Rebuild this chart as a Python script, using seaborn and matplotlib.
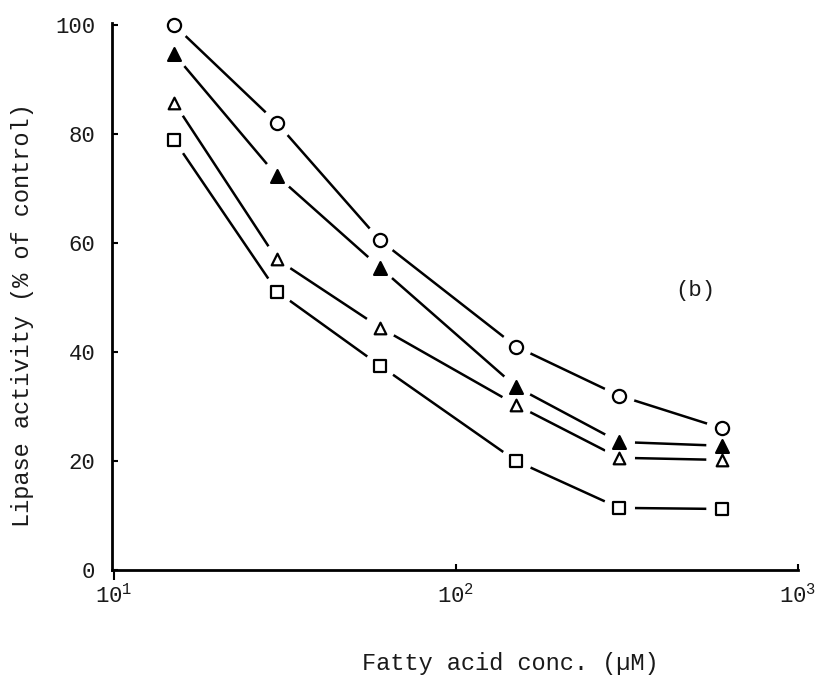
import matplotlib
matplotlib.use("Agg")
import matplotlib.pyplot as plt
import matplotlib.lines as mlines
from matplotlib.ticker import NullLocator, FixedLocator
import numpy as np
import pandas as pd
import seaborn as sns

# Fatty acid concentrations (µM) and lipase activity (% of control)
conc = [15, 30, 60, 150, 300, 600]
act_circle = [100.0, 82.0, 60.5, 41.0, 32.0, 26.0]
act_filled_tri = [94.7, 72.3, 55.5, 33.6, 23.5, 22.8]
act_open_tri = [85.8, 57.0, 44.5, 30.3, 20.6, 20.2]
act_square = [78.9, 51.1, 37.5, 20.0, 11.4, 11.2]

series_names = ["circle", "filled_tri", "open_tri", "square"]
series_vals = [act_circle, act_filled_tri, act_open_tri, act_square]

xtick_vals = [10, 100, 1000]
xtick_labels = [r"$\mathregular{10^{1}}$", r"$\mathregular{10^{2}}$", r"$\mathregular{10^{3}}$"]
ytick_vals = [0, 20, 40, 60, 80, 100]

df = pd.DataFrame({
    "conc": np.tile(conc, len(series_names)),
    "activity": np.concatenate(series_vals),
    "series": np.repeat(series_names, len(conc)),
})

sns.set_style("ticks")
plt.rcParams["font.family"] = ["Liberation Mono", "DejaVu Sans"]
plt.rcParams["mathtext.default"] = "regular"

fig = plt.figure(figsize=(8.15, 6.8), dpi=100)
ax = fig.add_axes([112 / 815, 1 - 570 / 680, 686 / 815, 547 / 680])

# connecting lines
sns.lineplot(data=df, x="conc", y="activity", units="series", estimator=None,
             color="black", linewidth=1.8, ax=ax, zorder=2, legend=False)

# white halo so the lines stop short of each marker
sns.scatterplot(data=df, x="conc", y="activity", marker="o", s=520,
                color="white", edgecolor="none", linewidth=0, ax=ax, zorder=3,
                legend=False, clip_on=False)

marker_styles = {
    "circle": dict(marker="o", s=90, facecolor="white"),
    "filled_tri": dict(marker="^", s=85, facecolor="black"),
    "open_tri": dict(marker="^", s=70, facecolor="white"),
    "square": dict(marker="s", s=80, facecolor="white"),
}
for name in series_names:
    st = marker_styles[name]
    sub = df[df["series"] == name]
    sns.scatterplot(data=sub, x="conc", y="activity", marker=st["marker"], s=st["s"],
                    facecolor=st["facecolor"], edgecolor="black", linewidth=1.6,
                    ax=ax, zorder=4, legend=False, clip_on=False)

ax.set_xscale("log")
ax.set_xlim(9.87, 1000)
ax.set_ylim(0, 100.4)

ax.xaxis.set_major_locator(FixedLocator(xtick_vals))
ax.xaxis.set_minor_locator(NullLocator())
ax.set_xticklabels(xtick_labels)
ax.set_yticks(ytick_vals)
ax.set_yticklabels([str(v) for v in ytick_vals])

ax.tick_params(axis="both", direction="in", length=4, width=1.5, labelsize=16,
               color="black", labelcolor="#1a1a1a")
ax.tick_params(axis="y", pad=12)
ax.tick_params(axis="x", pad=10)
ax.xaxis.get_major_ticks()[0].tick1line.set_marker(mlines.TICKDOWN)
ax.xaxis.get_major_ticks()[0].tick1line.set_markersize(7)

sns.despine(ax=ax)
for side in ("left", "bottom"):
    ax.spines[side].set_linewidth(2.0)
    ax.spines[side].set_color("black")

ax.set_xlabel("Fatty acid conc. (µM)", fontsize=17, color="#1a1a1a")
ax.xaxis.set_label_coords((510 - 112) / 686, -(652 - 570) / 547)
ax.set_ylabel("Lipase activity (% of control)", fontsize=17, color="#1a1a1a")
ax.yaxis.set_label_coords(-(112 - 34) / 686, (570 - 315) / 547)

ax.text(500, 51.3, "(b)", fontsize=16, ha="center", va="center", color="#1a1a1a")

fig.savefig("out.png", dpi=100)
